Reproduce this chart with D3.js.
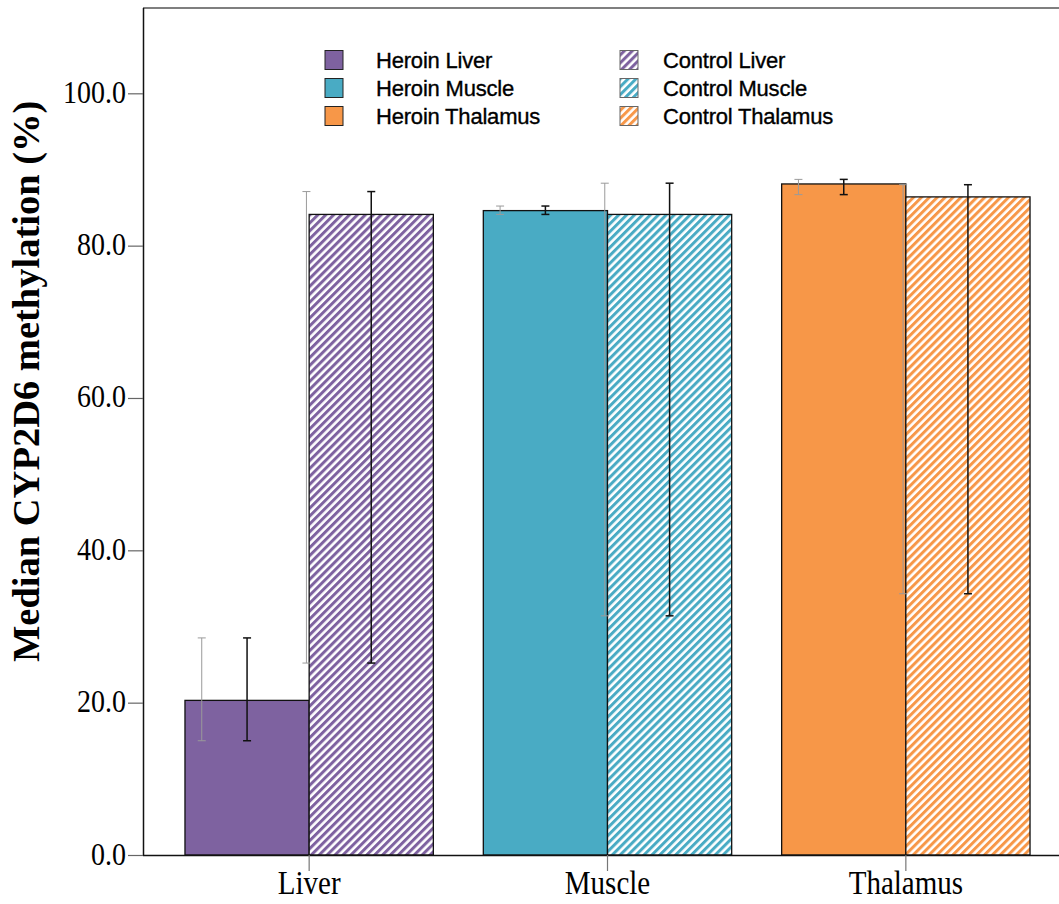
<!DOCTYPE html>
<html>
<head>
<meta charset="utf-8">
<script src="https://cdn.jsdelivr.net/npm/d3@7"></script>
<style>
  body { margin: 0; background: #fff; }
  svg { display: block; }
</style>
</head>
<body>
<svg id="chart" width="1059" height="904"></svg>
<script>
// ---- data ----
const categories = ["Liver", "Muscle", "Thalamus"];
const groups = ["Heroin", "Control"];
const heroinMedian = [20.3, 84.6, 88.1];
const heroinLow    = [15.0, 84.1, 86.7];
const heroinHigh   = [28.5, 85.2, 88.7];
const controlMedian = [84.1, 84.1, 86.4];
const controlLow    = [25.2, 31.4, 34.3];
const controlHigh   = [87.1, 88.2, 88.0];
const yTicks = [0, 20, 40, 60, 80, 100];
const colors = ["#7E62A0", "#49ABC4", "#F79748"];
const legendLabels = [
  ["Heroin Liver", "Heroin Muscle", "Heroin Thalamus"],
  ["Control Liver", "Control Muscle", "Control Thalamus"]
];

(function () {
const svg = d3.select("#chart");
const W = 1059;
const mLeft = 143, mBottom = 855, mTop = 8;

const y = d3.scaleLinear().domain([0, 111.2]).range([mBottom, mTop]);
const x = d3.scaleBand().domain(categories).range([135, 1080]).padding(0.1675);
const xs = d3.scaleBand().domain(groups).range([0, x.bandwidth()]);

// patterns
const defs = svg.append("defs");
colors.forEach((c, i) => {
  const p = defs.append("pattern")
    .attr("id", "hatch" + i)
    .attr("patternUnits", "userSpaceOnUse")
    .attr("width", 5.6).attr("height", 5.6)
    .attr("patternTransform", "rotate(45)");
  p.append("rect").attr("width", 5.6).attr("height", 5.6).attr("fill", "#fff");
  p.append("rect").attr("width", 3).attr("height", 5.6).attr("fill", c);
});

const rows = [];
categories.forEach((cat, i) => {
  rows.push({cat, i, g: "Heroin", med: heroinMedian[i], lo: heroinLow[i], hi: heroinHigh[i], fill: colors[i], ghost: 0.135});
  rows.push({cat, i, g: "Control", med: controlMedian[i], lo: controlLow[i], hi: controlHigh[i], fill: `url(#hatch${i})`, ghost: -0.022});
});

// frame: top line
svg.append("line").attr("x1", mLeft).attr("x2", W).attr("y1", mTop).attr("y2", mTop)
  .attr("stroke", "#555").attr("stroke-width", 1.6);

// bars
svg.append("g").selectAll("rect").data(rows).join("rect")
  .attr("x", d => x(d.cat) + xs(d.g))
  .attr("width", xs.bandwidth())
  .attr("y", d => y(d.med))
  .attr("height", d => y(0) - y(d.med))
  .attr("fill", d => d.fill)
  .attr("stroke", "#111")
  .attr("stroke-width", 1.3);

// ghost (grey) error bars
const cap = 4;
const ghost = svg.append("g").attr("stroke", "#9a9a9a").attr("stroke-width", 1);
rows.forEach(d => {
  const cx = x(d.cat) + xs(d.g) + d.ghost * xs.bandwidth();
  ghost.append("line").attr("x1", cx).attr("x2", cx).attr("y1", y(d.lo)).attr("y2", y(d.hi));
  ghost.append("line").attr("x1", cx - cap).attr("x2", cx + cap).attr("y1", y(d.lo)).attr("y2", y(d.lo));
  ghost.append("line").attr("x1", cx - cap).attr("x2", cx + cap).attr("y1", y(d.hi)).attr("y2", y(d.hi));
});
// main error bars
const eb = svg.append("g").attr("stroke", "#111").attr("stroke-width", 1.5);
rows.forEach(d => {
  const cx = x(d.cat) + xs(d.g) + xs.bandwidth() / 2;
  eb.append("line").attr("x1", cx).attr("x2", cx).attr("y1", y(d.lo)).attr("y2", y(d.hi));
  eb.append("line").attr("x1", cx - cap).attr("x2", cx + cap).attr("y1", y(d.lo)).attr("y2", y(d.lo));
  eb.append("line").attr("x1", cx - cap).attr("x2", cx + cap).attr("y1", y(d.hi)).attr("y2", y(d.hi));
});

// y axis
const yAxis = svg.append("g").attr("transform", `translate(${mLeft},0)`)
  .call(d3.axisLeft(y).tickValues(yTicks).tickFormat(d3.format(".1f")).tickSize(15).tickPadding(2));
yAxis.select(".domain").attr("stroke", "#111").attr("stroke-width", 1.5).attr("d", `M0.5,${mTop}V${mBottom}`);
yAxis.selectAll(".tick line").attr("stroke", "#666").attr("stroke-width", 1.2);
yAxis.selectAll(".tick text")
  .attr("font-family", "'Liberation Serif', 'Times New Roman', serif")
  .attr("font-size", 28).attr("fill", "#000")
  .attr("dy", null)
  .attr("transform", "scale(1,1.13)")
  .attr("y", 9 / 1.13);

// x axis
const xAxis = svg.append("g").attr("transform", `translate(0,${mBottom})`)
  .call(d3.axisBottom(x).tickSize(16).tickPadding(4));
xAxis.select(".domain").attr("stroke", "#111").attr("stroke-width", 1.5).attr("d", `M${mLeft},0.5H${W}`);
xAxis.selectAll(".tick line").attr("stroke", "#777").attr("stroke-width", 1.2);
xAxis.selectAll(".tick text")
  .attr("font-family", "'Liberation Serif', 'Times New Roman', serif")
  .attr("font-size", 29).attr("fill", "#000")
  .attr("dy", null).attr("y", 39 / 1.13)
  .attr("transform", "scale(1,1.13)");

// y title
svg.append("text")
  .attr("transform", "translate(39,662) rotate(-90)")
  .attr("text-anchor", "start")
  .attr("font-family", "'Liberation Serif', 'Times New Roman', serif")
  .attr("font-weight", "bold")
  .attr("font-size", 38.5)
  .text("Median CYP2D6 methylation (%)");

// legend
const lg = svg.append("g");
const colX = [325, 620], textX = [376, 663], rowY = [60, 88, 116];
[0, 1].forEach(c => {
  colors.forEach((col, r) => {
    lg.append("rect")
      .attr("x", colX[c]).attr("y", rowY[r] - 9.5).attr("width", 18).attr("height", 19)
      .attr("fill", c === 0 ? col : `url(#hatch${r})`)
      .attr("stroke", c === 0 ? "#222" : "#666").attr("stroke-width", 1);
    lg.append("text")
      .attr("x", textX[c]).attr("y", rowY[r] + 7.5)
      .attr("font-family", "'Liberation Sans', Arial, sans-serif")
      .attr("font-size", 22).attr("letter-spacing", -0.2)
      .attr("stroke", "#000").attr("stroke-width", 0.35)
      .text(legendLabels[c][r]);
  });
});
})();
</script>
</body>
</html>
